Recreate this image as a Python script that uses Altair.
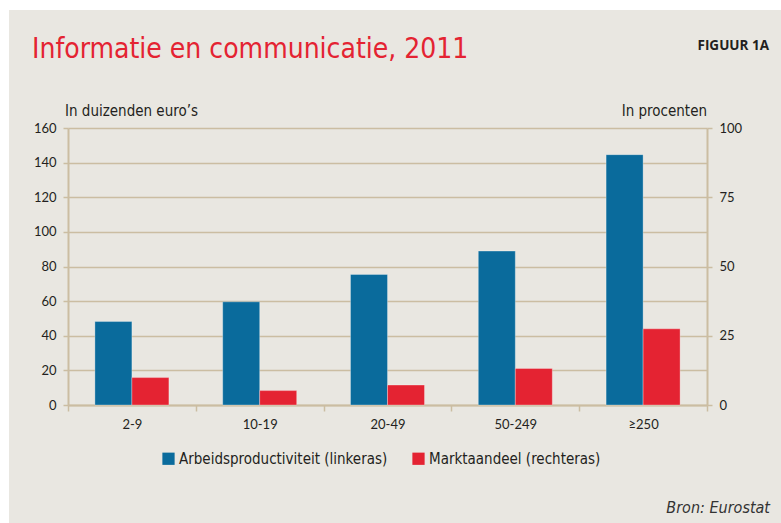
import altair as alt
import pandas as pd

categories = ["2-9", "10-19", "20-49", "50-249", "≥250"]
productivity = [48.2, 59.6, 75.4, 88.9, 144.6]
market_share = [9.9, 5.2, 7.2, 13.2, 27.5]
series_names = ["Arbeidsproductiviteit (linkeras)", "Marktaandeel (rechteras)"]
left_ticks = [0, 20, 40, 60, 80, 100, 120, 140, 160]
right_ticks = [0, 25, 50, 75, 100]
title_text = "Informatie en communicatie, 2011"
figure_label = "FIGUUR 1A"
left_axis_title = "In duizenden euro’s"
right_axis_title = "In procenten"
source_text = "Bron: Eurostat"

BG = "#e9e7e1"
GRID = "#cbbda2"
BLUE = "#0a6b9c"
RED = "#e42332"
TXT = "#231f20"
NARROW = "'Liberation Sans Narrow', 'DejaVu Sans Condensed', sans-serif"
NUM = "Lato"

W, H = 639, 277

df_p = pd.DataFrame({"cat": categories, "value": productivity, "series": series_names[0]})
df_m = pd.DataFrame({"cat": categories, "value": market_share, "series": series_names[1]})

x = alt.X("cat:N", sort=categories,
          scale=alt.Scale(paddingInner=0, paddingOuter=0),
          axis=alt.Axis(title=None, labelAngle=0, tickBand="extent", domainColor=GRID,
                        domainWidth=2, tickColor=GRID, tickWidth=1.5, tickSize=6, labelPadding=7,
                        labelFont=NUM, labelFontSize=13, labelColor=TXT))
xoff = alt.XOffset("series:N", scale=alt.Scale(domain=series_names, paddingInner=0, paddingOuter=0.727))
color = alt.Color("series:N", scale=alt.Scale(domain=series_names, range=[BLUE, RED]),
                  legend=alt.Legend(title=None, orient="none", legendX=93, legendY=323,
                                    direction="horizontal", symbolType="square", symbolSize=150,
                                    symbolStrokeWidth=0, symbolOpacity=1, labelFont=NARROW,
                                    labelFontSize=15, labelColor=TXT, columnPadding=23,
                                    labelOffset=3, padding=0, labelLimit=500))

bars_p = alt.Chart(df_p).mark_bar(stroke="white", strokeOpacity=0.3, strokeWidth=1).encode(
    x=x, xOffset=xoff, color=color,
    y=alt.Y("value:Q", scale=alt.Scale(domain=[0, 160], nice=False),
            axis=alt.Axis(title=None, values=left_ticks, grid=True, gridColor=GRID, gridWidth=1.5,
                          domainColor=GRID, domainWidth=2, tickColor=GRID, tickWidth=1.5, tickSize=5,
                          labelPadding=7, labelFont=NUM, labelFontSize=13, labelColor=TXT)),
)
bars_m = alt.Chart(df_m).mark_bar(stroke="white", strokeOpacity=0.3, strokeWidth=1).encode(
    x=x, xOffset=xoff, color=color,
    y=alt.Y("value:Q", scale=alt.Scale(domain=[0, 100], nice=False),
            axis=alt.Axis(title=None, orient="right", values=right_ticks, grid=False,
                          domainColor=GRID, domainWidth=2, tickColor=GRID, tickWidth=1.5, tickSize=5,
                          labelPadding=7, labelFont=NUM, labelFontSize=13, labelColor=TXT)),
)

one = pd.DataFrame({"k": [0]})
# white page margins at top and left (outside the beige panel)
white_top = alt.Chart(one).mark_rect(color="white").encode(
    x=alt.value(-68), x2=alt.value(713), y=alt.value(-128), y2=alt.value(-118))
white_left = alt.Chart(one).mark_rect(color="white").encode(
    x=alt.value(-68), x2=alt.value(-59), y=alt.value(-128), y2=alt.value(395))


def label(text, xv, yv, **kw):
    return alt.Chart(pd.DataFrame({"t": [text]})).mark_text(**kw).encode(
        x=alt.value(xv), y=alt.value(yv), text="t:N")


t_title = label(title_text, -36, -70, align="left", baseline="alphabetic", font=NARROW,
                fontSize=28, color=RED, fontWeight=300)
t_fig = label(figure_label, 701, -78, align="right", baseline="alphabetic", font="Open Sans",
              fontSize=13.5, fontWeight="bold", color=TXT)
t_left = label(left_axis_title, -3, -17, align="left", baseline="middle", font=NARROW,
               fontSize=15, color=TXT)
t_right = label(right_axis_title, 639, -17, align="right", baseline="middle", font=NARROW,
                fontSize=15, color=TXT)
t_src = label(source_text, 702, 380, align="right", baseline="middle", font=NARROW,
              fontSize=16, fontStyle="italic", color="#333333")

chart = alt.layer(bars_p, bars_m, white_top, white_left, t_title, t_fig, t_left, t_right, t_src).resolve_scale(
    y="independent"
).properties(
    width=W, height=H,
    padding={"left": 68, "top": 128, "right": 74, "bottom": 118},
    autosize=alt.AutoSizeParams(type="none"),
).configure(background=BG).configure_view(stroke=None, fill=None)

chart.save("out.html", embed_options={"renderer": "svg", "actions": False})
